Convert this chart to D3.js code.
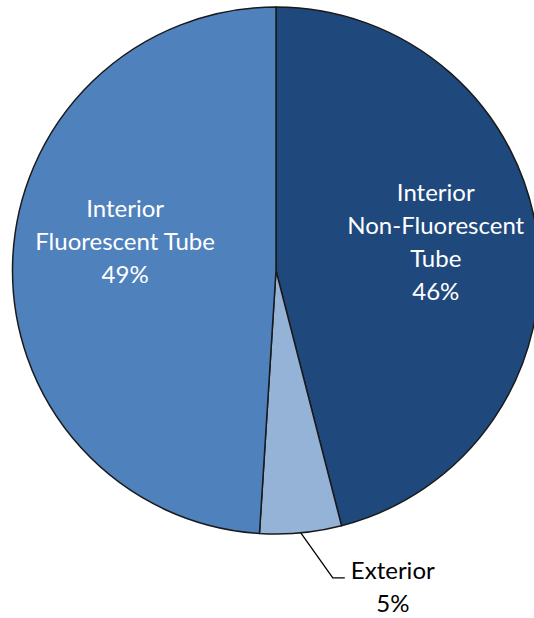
<!DOCTYPE html>
<html lang="en">
<head>
<meta charset="UTF-8">
<title>Lighting share pie</title>
<style>
  body { margin: 0; background: #fff; }
  svg text { font-family: Lato, "Open Sans", sans-serif; }
</style>
<script src="https://cdn.jsdelivr.net/npm/d3@7"></script>
</head>
<body>
<div id="chart"></div>
<script>
// slices, clockwise from 12 o'clock
var labels = [["Interior", "Non-Fluorescent", "Tube"], ["Exterior"], ["Interior", "Fluorescent Tube"]];
var values = [46, 5, 49];
var colors = ["#1f497d", "#95b3d7", "#4f81bd"];
var inside = [true, false, true];

var width = 534, height = 618;
var cx = 276, cy = 270.5, radius = 263.5;
var lineH = 33;

var svg = d3.select("#chart").append("svg")
  .attr("width", width)
  .attr("height", height);

var g = svg.append("g").attr("transform", "translate(" + cx + "," + cy + ")");

var pie = d3.pie().sort(null).value(function (d) { return d; });
var arcs = pie(values);

var arc = d3.arc().innerRadius(0).outerRadius(radius);
var labelArc = d3.arc().innerRadius(156).outerRadius(156);
var edgeArc = d3.arc().innerRadius(radius).outerRadius(radius);

g.selectAll("path.slice")
  .data(arcs)
  .enter().append("path")
  .attr("class", "slice")
  .attr("d", arc)
  .attr("fill", function (d, i) { return colors[i]; })
  .attr("stroke", "#1a1a1a")
  .attr("stroke-width", 1.5)
  .attr("stroke-linejoin", "round");

// inside labels: x from the slice centroid, block centred a little above middle
arcs.forEach(function (a, i) {
  if (!inside[i]) return;
  var c = labelArc.centroid(a);
  var lines = labels[i].concat([values[i] + "%"]);
  var top = -28.5 - (lines.length - 1) * lineH / 2;
  var t = g.append("text")
    .attr("text-anchor", "middle")
    .attr("fill", "#fff")
    .attr("font-size", 24);
  lines.forEach(function (s, k) {
    t.append("tspan")
      .attr("x", c[0] + 5)
      .attr("y", top + k * lineH)
      .attr("dy", "0.35em")
      .text(s);
  });
});

// outside label with leader line
arcs.forEach(function (a, i) {
  if (inside[i]) return;
  var p0 = edgeArc.centroid(a);
  var p1 = [p0[0] + 32, p0[1] + 45];
  var p2 = [p1[0] + 12, p1[1]];
  g.append("polyline")
    .attr("points", [p0, p1, p2].map(function (p) { return p.join(","); }).join(" "))
    .attr("fill", "none")
    .attr("stroke", "#000")
    .attr("stroke-width", 1.3);
  var lines = labels[i].concat([values[i] + "%"]);
  var t = g.append("text")
    .attr("text-anchor", "middle")
    .attr("fill", "#000")
    .attr("font-size", 24);
  lines.forEach(function (s, k) {
    t.append("tspan")
      .attr("x", p2[0] + 48)
      .attr("y", p2[1] - 7 + k * 33)
      .attr("dy", "0.35em")
      .text(s);
  });
});
</script>
</body>
</html>
